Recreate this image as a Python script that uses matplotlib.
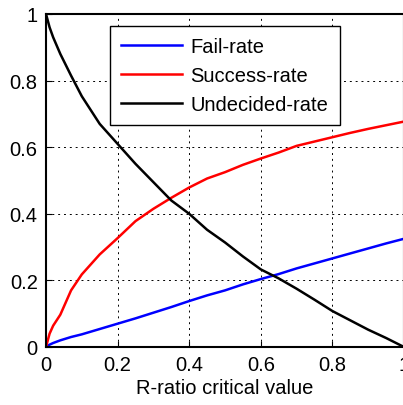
import matplotlib
matplotlib.use('Agg')
import matplotlib.pyplot as plt

plt.rcParams['font.family'] = ['Liberation Sans', 'DejaVu Sans']

# critical value grid and rates
r_crit = [0, 0.01, 0.02, 0.04, 0.07, 0.1, 0.15, 0.2, 0.25, 0.3, 0.35, 0.4, 0.45, 0.5, 0.55, 0.6, 0.65, 0.7, 0.75, 0.8, 0.85, 0.9, 0.95, 1.0]
fail_rate = [0, 0.007, 0.012, 0.02, 0.03, 0.038, 0.054, 0.07, 0.086, 0.103, 0.12, 0.138, 0.155, 0.17, 0.188, 0.204, 0.219, 0.236, 0.251, 0.266, 0.281, 0.296, 0.311, 0.325]
success_rate = [0, 0.04, 0.064, 0.097, 0.17, 0.218, 0.278, 0.327, 0.378, 0.415, 0.448, 0.479, 0.506, 0.525, 0.547, 0.566, 0.584, 0.604, 0.617, 0.63, 0.643, 0.655, 0.666, 0.677]
undecided_rate = [1.0, 0.96, 0.93, 0.88, 0.815, 0.753, 0.67, 0.61, 0.55, 0.495, 0.44, 0.40, 0.352, 0.314, 0.272, 0.233, 0.206, 0.175, 0.142, 0.108, 0.08, 0.052, 0.027, 0.0]

ticks = [0, 0.2, 0.4, 0.6, 0.8, 1]
tick_labels = ['0', '0.2', '0.4', '0.6', '0.8', '1']

fig = plt.figure(figsize=(4.03, 4.06), dpi=100)
ax = fig.add_axes([46 / 403, 58 / 406, 358 / 403, 333 / 406])

ax.plot(r_crit, fail_rate, color='blue', lw=1.8, label='Fail-rate')
ax.plot(r_crit, success_rate, color='red', lw=1.8, label='Success-rate')
ax.plot(r_crit, undecided_rate, color='black', lw=1.8, label='Undecided-rate')

ax.set_xlim(0, 1)
ax.set_ylim(0, 1)
ax.set_xticks(ticks)
ax.set_xticklabels(tick_labels)
ax.set_yticks(ticks)
ax.set_yticklabels(tick_labels)
ax.tick_params(direction='in', length=4, labelsize=14.5, pad=6)
ax.grid(True, color='black', linestyle=(0, (2, 4)), linewidth=0.7)
for s in ax.spines.values():
    s.set_linewidth(1.5)

ax.set_xlabel('R-ratio critical value', fontsize=14.5, labelpad=3)

leg = ax.legend(loc='upper left', bbox_to_anchor=(0.179, 0.964), borderaxespad=0,
                fontsize=14.5, handlelength=3.0, handletextpad=0.45, labelspacing=0.5,
                fancybox=False, framealpha=1, edgecolor='black', borderpad=0.55)
leg.get_frame().set_linewidth(1.0)

fig.savefig('out.png', dpi=100)
